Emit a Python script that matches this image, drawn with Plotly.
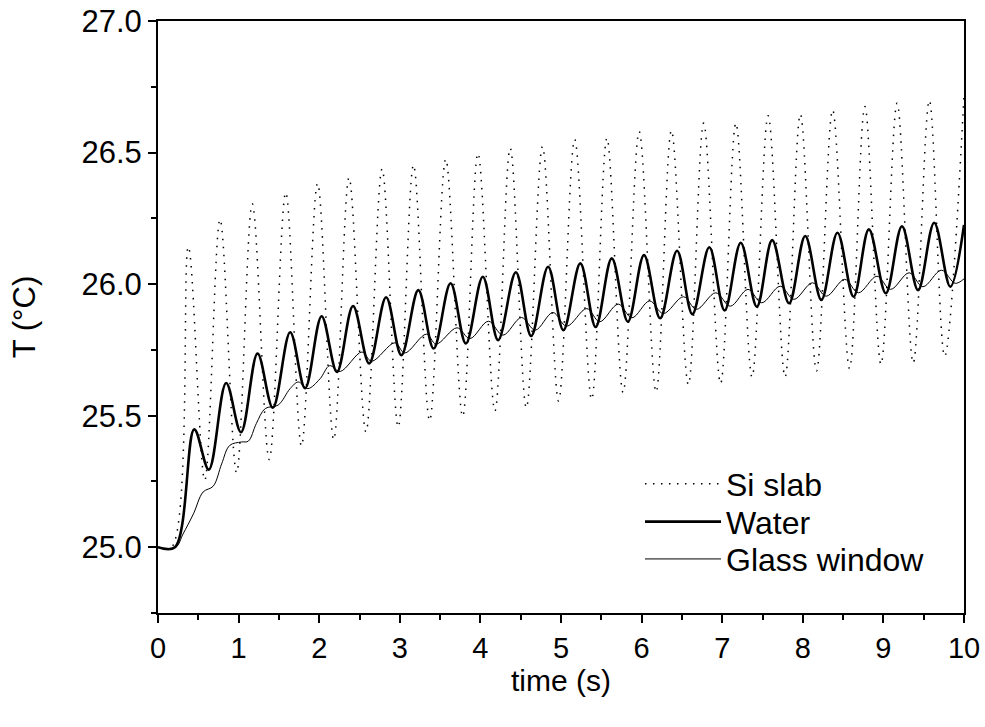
import plotly.graph_objects as go

# ---- data (local extrema and knee points) ----
si_t = [0, 0.17, 0.376, 0.58, 0.77, 0.975, 1.17, 1.38, 1.585, 1.78, 1.98, 2.18, 2.37, 2.58,
        2.78, 2.98, 3.17, 3.37, 3.57, 3.78, 3.97, 4.18, 4.37, 4.57, 4.77, 4.97, 5.17, 5.38,
        5.57, 5.77, 5.97, 6.18, 6.37, 6.58, 6.77, 6.98, 7.17, 7.37, 7.57, 7.78, 7.97, 8.17,
        8.37, 8.58, 8.77, 8.97, 9.17, 9.37, 9.57, 9.76, 10.0]
si_T = [25.0, 25.0, 26.142, 25.255, 26.246, 25.283, 26.305, 25.333, 26.348, 25.385, 26.383,
        25.409, 26.405, 25.438, 26.438, 25.457, 26.453, 25.481, 26.475, 25.497, 26.497, 25.518,
        26.517, 25.53, 26.523, 25.556, 26.55, 25.562, 26.555, 25.588, 26.58, 25.59, 26.584,
        25.618, 26.612, 25.622, 26.612, 25.647, 26.64, 25.647, 26.646, 25.67, 26.662, 25.679,
        26.675, 25.695, 26.688, 25.70, 26.698, 25.726, 26.72]

water_t = [0, 0.21, 0.45, 0.63, 0.845, 1.03, 1.235, 1.425, 1.64, 1.825, 2.03, 2.22, 2.42, 2.62,
           2.83, 3.02, 3.23, 3.42, 3.63, 3.82, 4.03, 4.22, 4.44, 4.63, 4.84, 5.03, 5.24, 5.43,
           5.63, 5.83, 6.03, 6.23, 6.44, 6.63, 6.84, 7.03, 7.23, 7.43, 7.62, 7.83, 8.03, 8.23,
           8.43, 8.63, 8.82, 9.03, 9.23, 9.43, 9.63, 9.83, 10.0]
water_T = [25.0, 25.0, 25.448, 25.295, 25.624, 25.437, 25.736, 25.53, 25.817, 25.604, 25.878,
           25.666, 25.917, 25.698, 25.95, 25.73, 25.977, 25.755, 26.003, 25.774, 26.028, 25.787,
           26.045, 25.803, 26.066, 25.825, 26.079, 25.837, 26.098, 25.857, 26.11, 25.87, 26.127,
           25.886, 26.14, 25.90, 26.157, 25.914, 26.167, 25.927, 26.183, 25.94, 26.195, 25.952,
           26.208, 25.965, 26.22, 25.977, 26.233, 25.99, 26.225]

glass_t = [0, 0.22, 0.31, 0.44, 0.56, 0.685, 0.79, 0.89, 1.035, 1.12, 1.22, 1.33, 1.49, 1.64,
           1.74, 1.86, 2.01, 2.13, 2.26, 2.53, 2.65, 2.94, 3.06, 3.33, 3.45, 3.71, 3.87, 4.10,
           4.28, 4.51, 4.68, 4.90, 5.07, 5.32, 5.48, 5.71, 5.88, 6.10, 6.27, 6.52, 6.68, 6.92,
           7.10, 7.32, 7.49, 7.72, 7.89, 8.12, 8.29, 8.52, 8.69, 8.92, 9.09, 9.32, 9.49, 9.72,
           9.89, 10.0]
glass_T = [25.0, 25.0, 25.05, 25.127, 25.21, 25.232, 25.317, 25.387, 25.40, 25.403, 25.47, 25.527,
           25.54, 25.603, 25.628, 25.603, 25.64, 25.69, 25.668, 25.742, 25.707, 25.777, 25.738,
           25.81, 25.772, 25.834, 25.793, 25.859, 25.806, 25.873, 25.825, 25.892, 25.84, 25.907,
           25.857, 25.924, 25.872, 25.936, 25.888, 25.952, 25.904, 25.967, 25.916, 25.98, 25.929,
           25.992, 25.942, 26.005, 25.954, 26.018, 25.967, 26.03, 25.98, 26.043, 25.99, 26.053,
           26.003, 26.02]

x_ticks = [0, 1, 2, 3, 4, 5, 6, 7, 8, 9, 10]
y_ticks = [25.0, 25.5, 26.0, 26.5, 27.0]

FONT = "Liberation Sans, Arial, sans-serif"

fig = go.Figure()
fig.add_trace(go.Scatter(x=si_t, y=si_T, mode="lines", name="Si slab", legend="legend",
                         line=dict(color="black", width=1.5, dash="1.5px,6.5px", shape="spline", smoothing=1)))
fig.add_trace(go.Scatter(x=water_t, y=water_T, mode="lines", name="Water", legend="legend2",
                         line=dict(color="black", width=2.6, shape="spline", smoothing=1)))
fig.add_trace(go.Scatter(x=glass_t, y=glass_T, mode="lines", name="Glass window", legend="legend3",
                         line=dict(color="black", width=1, shape="spline", smoothing=1)))

axis_common = dict(showline=True, linecolor="black", linewidth=2, mirror=True,
                   ticks="outside", ticklen=8, tickwidth=2, tickcolor="black",
                   showgrid=False, zeroline=False, automargin=False,
                   ticklabeloverflow="allow")

legend_common = dict(x=0.598, xanchor="left", yanchor="middle",
                     bgcolor="rgba(0,0,0,0)", borderwidth=0,
                     font=dict(family=FONT, size=32, color="black"),
                     itemwidth=76)

fig.update_layout(
    width=985, height=727,
    margin=dict(l=158, r=21, t=21, b=114),
    paper_bgcolor="white", plot_bgcolor="white",
    font=dict(family=FONT, color="black"),
    showlegend=True,
    legend=dict(y=0.218, **legend_common),
    legend2=dict(y=0.154, **legend_common),
    legend3=dict(y=0.091, **legend_common),
    xaxis=dict(range=[0, 10], tickvals=x_ticks, ticktext=[str(v) for v in x_ticks],
               tickfont=dict(family=FONT, size=29, color="black"),
               minor=dict(dtick=0.5, ticklen=5, tickwidth=1.5, tickcolor="black", ticks="outside", showgrid=False),
               title=dict(text="time (s)", font=dict(family=FONT, size=30, color="black"), standoff=7),
               **axis_common),
    yaxis=dict(range=[24.75, 27.0], tickvals=y_ticks, ticktext=[f"{v:.1f}" for v in y_ticks],
               tickfont=dict(family=FONT, size=31, color="black"),
               minor=dict(dtick=0.25, tick0=24.75, ticklen=5, tickwidth=1.5, tickcolor="black", ticks="outside", showgrid=False),
               title=dict(text="T (°C)", font=dict(family=FONT, size=31, color="black"), standoff=37),
               **axis_common),
)

fig.write_html("out.html",
               config={"displayModeBar": False},
               post_script="document.body.style.margin='0';document.body.style.overflow='hidden';")
